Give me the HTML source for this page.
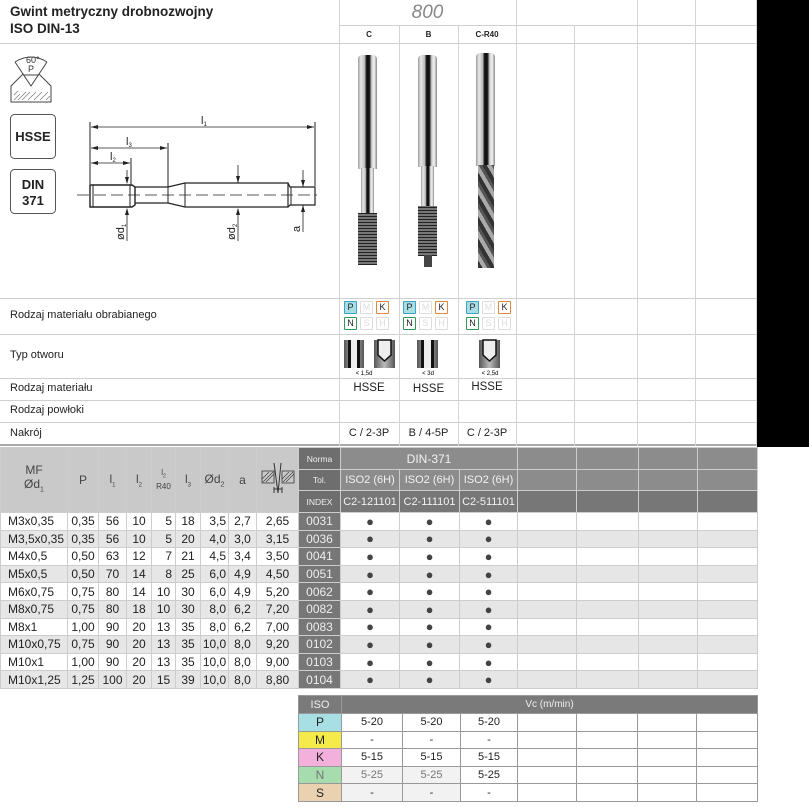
<!DOCTYPE html>
<html><head><meta charset="utf-8"><style>
*{margin:0;padding:0;box-sizing:border-box}
body{width:809px;height:807px;position:relative;background:#fff;font-family:"Liberation Sans",Arial,sans-serif;color:#222;overflow:hidden}
.a{position:absolute}
.hl{position:absolute;height:1px;background:#cfcfcf}
.vl{position:absolute;width:1px;background:#d4d4d4}
.lbl{position:absolute;left:10px;font-size:11px;color:#222}
table{border-collapse:collapse;position:absolute;table-layout:fixed}
td{border:1px solid #cdcdcd;font-size:12px;text-align:center;padding:0;white-space:nowrap;overflow:hidden}
.m{position:absolute;width:13px;height:13px;border:1px solid #ddd;font-size:9px;text-align:center;line-height:11px;color:#ddd;border-radius:1px}
.tap{position:absolute;background:linear-gradient(90deg,#9a9a9a 0%,#e8e8e8 15%,#bdbdbd 35%,#111 45%,#111 60%,#cfcfcf 72%,#f2f2f2 85%,#888 100%)}
</style></head><body>
<div class="a" style="left:757px;top:0;width:52px;height:447px;background:#000"></div>
<div class="a" style="left:10px;top:3px;font-size:13.5px;font-weight:bold;line-height:17px;color:#222">Gwint metryczny drobnozwojny<br>ISO DIN-13</div>
<div class="a" style="left:339px;top:2px;width:177px;text-align:center;font-size:19px;font-style:italic;color:#888">800</div>
<div class="a" style="left:339px;top:30px;width:60px;text-align:center;font-size:8px;font-weight:bold">C</div>
<div class="a" style="left:399px;top:30px;width:59px;text-align:center;font-size:8px;font-weight:bold">B</div>
<div class="a" style="left:458px;top:30px;width:58px;text-align:center;font-size:8px;font-weight:bold">C-R40</div>
<div class="hl" style="left:339px;top:25px;width:418px"></div>
<div class="hl" style="left:0;top:43px;width:757px"></div>
<div class="hl" style="left:0;top:298px;width:757px"></div>
<div class="hl" style="left:0;top:334px;width:757px"></div>
<div class="hl" style="left:0;top:378px;width:757px"></div>
<div class="hl" style="left:0;top:400px;width:757px"></div>
<div class="hl" style="left:0;top:422px;width:757px"></div>
<div class="hl" style="left:0;top:444px;width:757px;background:#aaa;height:2px"></div>
<div class="vl" style="left:339px;top:0;height:446px"></div>
<div class="vl" style="left:399px;top:25px;height:421px"></div>
<div class="vl" style="left:458px;top:25px;height:421px"></div>
<div class="vl" style="left:516px;top:0;height:446px"></div>
<div class="vl" style="left:574px;top:25px;height:421px"></div>
<div class="vl" style="left:637px;top:0;height:446px"></div>
<div class="vl" style="left:695px;top:0;height:446px"></div>
<div class="vl" style="left:756px;top:0;height:446px"></div>
<div class="lbl" style="top:309px">Rodzaj materiału obrabianego</div>
<div class="lbl" style="top:349px">Typ otworu</div>
<div class="lbl" style="top:382px">Rodzaj materiału</div>
<div class="lbl" style="top:404px">Rodzaj powłoki</div>
<div class="lbl" style="top:427px">Nakrój</div>
<div class="a" style="left:339px;top:382px;width:60px;text-align:center;font-size:11.5px">HSSE</div>
<div class="a" style="left:399px;top:383px;width:59px;text-align:center;font-size:11.5px">HSSE</div>
<div class="a" style="left:458px;top:381px;width:58px;text-align:center;font-size:11.5px">HSSE</div>
<div class="a" style="left:339px;top:427px;width:60px;text-align:center;font-size:11px">C / 2-3P</div>
<div class="a" style="left:399px;top:427px;width:59px;text-align:center;font-size:11px">B / 4-5P</div>
<div class="a" style="left:458px;top:427px;width:58px;text-align:center;font-size:11px">C / 2-3P</div>
<div class="m" style="left:344px;top:301px;background:#a9dde6;border-color:#3aa5c2;color:#222">P</div><div class="m" style="left:360px;top:301px">M</div><div class="m" style="left:376px;top:301px;border-color:#e0883a;color:#222">K</div>
<div class="m" style="left:344px;top:317px;border-color:#2f9a5a;color:#222">N</div><div class="m" style="left:360px;top:317px">S</div><div class="m" style="left:376px;top:317px">H</div>
<div class="m" style="left:403px;top:301px;background:#a9dde6;border-color:#3aa5c2;color:#222">P</div><div class="m" style="left:419px;top:301px">M</div><div class="m" style="left:435px;top:301px;border-color:#e0883a;color:#222">K</div>
<div class="m" style="left:403px;top:317px;border-color:#2f9a5a;color:#222">N</div><div class="m" style="left:419px;top:317px">S</div><div class="m" style="left:435px;top:317px">H</div>
<div class="m" style="left:466px;top:301px;background:#a9dde6;border-color:#3aa5c2;color:#222">P</div><div class="m" style="left:482px;top:301px">M</div><div class="m" style="left:498px;top:301px;border-color:#e0883a;color:#222">K</div>
<div class="m" style="left:466px;top:317px;border-color:#2f9a5a;color:#222">N</div><div class="m" style="left:482px;top:317px">S</div><div class="m" style="left:498px;top:317px">H</div>
<svg class="a" style="left:0;top:0" width="809" height="807">
<defs><linearGradient id="g" x1="0" x2="1"><stop offset="0" stop-color="#555"/><stop offset=".5" stop-color="#bbb"/><stop offset="1" stop-color="#555"/></linearGradient></defs>
<g>
<rect x="344" y="340" width="20" height="28" fill="url(#g)"/><rect x="348" y="340" width="3" height="28" fill="#111"/><rect x="357" y="340" width="3" height="28" fill="#111"/><rect x="351" y="340" width="6" height="28" fill="#eee"/>
<rect x="374" y="340" width="21" height="28" fill="url(#g)"/><path d="M378 340v15l6.5 6 6.5-6v-15z" fill="#eee" stroke="#111" stroke-width="1.5"/>
<rect x="417" y="340" width="21" height="28" fill="url(#g)"/><rect x="421" y="340" width="3" height="28" fill="#111"/><rect x="431" y="340" width="3" height="28" fill="#111"/><rect x="424" y="340" width="7" height="28" fill="#eee"/>
<rect x="479" y="340" width="21" height="28" fill="url(#g)"/><path d="M483 340v15l6.5 6 6.5-6v-15z" fill="#eee" stroke="#111" stroke-width="1.5"/>
<text x="364" y="375" font-size="6" text-anchor="middle" font-family="Liberation Sans">&lt; 1,5d</text>
<text x="428" y="375" font-size="6" text-anchor="middle" font-family="Liberation Sans">&lt; 3d</text>
<text x="490" y="375" font-size="6" text-anchor="middle" font-family="Liberation Sans">&lt; 2,5d</text>
</g>
<g stroke="#444" fill="none" stroke-width="1">
<path d="M11 102V86l12-12 8 12 8-12 12 12v16z" fill="#fff"/>
<path d="M14 100l6-6M18 100l8-8M22 100l8-8M28 100l8-8M34 100l8-8M40 100l8-8M46 100l4-4M14 95l4-4" stroke="#777" stroke-width=".7"/>
<path d="M15 62q16-10 32 0M15 62l8 12M47 62l-8 12M23 75h16"/>
</g>
<text x="26" y="63" font-size="9" font-family="Liberation Sans" fill="#333">60°</text>
<text x="28" y="72" font-size="9" font-family="Liberation Sans" fill="#333">P</text>
<rect x="10.5" y="114.5" width="45" height="44" rx="4" fill="#fff" stroke="#555"/>
<text x="33" y="141" font-size="13" font-weight="bold" text-anchor="middle" font-family="Liberation Sans" fill="#222">HSSE</text>
<rect x="10.5" y="169.5" width="45" height="44" rx="4" fill="#fff" stroke="#555"/>
<text x="33" y="189" font-size="13" font-weight="bold" text-anchor="middle" font-family="Liberation Sans" fill="#222">DIN</text>
<text x="33" y="205" font-size="13" font-weight="bold" text-anchor="middle" font-family="Liberation Sans" fill="#222">371</text>
<g stroke="#222" fill="none" stroke-width="1">
<path d="M90 185h42l3 2v18l-3 2H90z" stroke-width="1.4"/>
<path d="M93 185v22M130 185v22"/>
<path d="M135 187h33l17-4h103v24H185l-17-4h-33" stroke-width="1.2"/>
<path d="M168 187v16M185 183v24"/>
<path d="M288 183l2 4h25v18h-25l-2 2" stroke-width="1.2"/>
<path d="M291 187v18"/>
<path d="M77 195h240" stroke-dasharray="12 5" stroke-width=".8"/>
<path d="M90 122v62M315 122v64M168 143v44M131 158v27"/>
<path d="M91 127h223M91 148h76M91 163h39" stroke-width=".8"/>
<path d="M127 170v13M127 209v32M238 165v18M238 209v32M303 170v17M303 205v27" stroke-width=".8"/>
</g>
<g fill="#222">
<path d="M91 127l7-2v4zM314 127l-7-2v4zM91 148l7-2v4zM167 148l-7-2v4zM91 163l7-2v4zM130 163l-7-2v4z"/>
<path d="M127 184l-2-7h4zM127 208l-2 7h4zM238 183l-2-7h4zM238 208l-2 7h4zM303 187l-2-7h4zM303 205l-2 7h4z"/>
</g>
<g font-family="Liberation Sans" font-size="11" fill="#222">
<text x="201" y="124">l<tspan font-size="6" dy="2">1</tspan></text>
<text x="126" y="145">l<tspan font-size="6" dy="2">3</tspan></text>
<text x="110" y="160">l<tspan font-size="6" dy="2">2</tspan></text>
<text transform="translate(124,240) rotate(-90)">ød<tspan font-size="6" dy="2">1</tspan></text>
<text transform="translate(235,240) rotate(-90)">ød<tspan font-size="6" dy="2">2</tspan></text>
<text transform="translate(300,232) rotate(-90)">a</text>
</g>
</svg>
<div class="tap" style="left:358px;top:55px;width:19px;height:114px;border-radius:4px 4px 0 0"></div>
<div class="tap" style="left:361px;top:168px;width:13px;height:46px"></div>
<div class="tap" style="left:358px;top:213px;width:19px;height:52px;background:repeating-linear-gradient(0deg,#222 0 1px,#777 1px 3px)"></div>
<div class="tap" style="left:418px;top:55px;width:19px;height:112px;border-radius:4px 4px 0 0"></div>
<div class="tap" style="left:421px;top:166px;width:13px;height:40px"></div>
<div class="tap" style="left:418px;top:206px;width:19px;height:50px;background:repeating-linear-gradient(0deg,#222 0 1px,#777 1px 3px)"></div>
<div class="tap" style="left:424px;top:255px;width:8px;height:12px;background:#444"></div>
<div class="tap" style="left:476px;top:53px;width:19px;height:113px;border-radius:4px 4px 0 0"></div>
<div class="tap" style="left:478px;top:165px;width:16px;height:103px;background:repeating-linear-gradient(60deg,#333 0 4px,#aaa 4px 8px,#555 8px 11px)"></div>
<table style="left:0;top:447px;width:757px">
<colgroup><col style="width:67px"><col style="width:31px"><col style="width:28px"><col style="width:25px"><col style="width:24px"><col style="width:25px"><col style="width:28px"><col style="width:28px"><col style="width:42px"><col style="width:42px"><col style="width:59px"><col style="width:60px"><col style="width:58px"><col style="width:59px"><col style="width:62px"><col style="width:59px"><col style="width:60px"></colgroup>
<tr style="height:22px">
<td rowspan="3" style="background:#c9c9c9;color:#444;font-size:12px;line-height:14px">MF<br>Ød<sub style="font-size:7px">1</sub></td>
<td rowspan="3" style="background:#c9c9c9;color:#444">P</td>
<td rowspan="3" style="background:#c9c9c9;color:#444">l<sub style="font-size:6px">1</sub></td>
<td rowspan="3" style="background:#c9c9c9;color:#444">l<sub style="font-size:6px">2</sub></td>
<td rowspan="3" style="background:#c9c9c9;color:#444;font-size:8px;line-height:10px">l<sub style="font-size:5px">2</sub><br>R40</td>
<td rowspan="3" style="background:#c9c9c9;color:#444">l<sub style="font-size:6px">3</sub></td>
<td rowspan="3" style="background:#c9c9c9;color:#444">Ød<sub style="font-size:7px">2</sub></td>
<td rowspan="3" style="background:#c9c9c9;color:#444">a</td>
<td rowspan="3" style="background:#c9c9c9"><svg width="36" height="36" viewBox="0 0 36 36"><g stroke="#333" fill="none"><path d="M2 10h12v12H2zM22 10h12v12H22z" stroke-width=".8"/><path d="M3 21l10-10M6 21l8-8M2 18l7-7M23 21l10-10M26 21l8-8M22 18l7-7" stroke-width=".6"/><path d="M14 2l4 30M21 2l-3 30M14 28h8M14 26v6M22 26v6"/></g></svg></td>
<td style="background:#6e6e6e;color:#eee;font-size:8.5px">Norma</td>
<td colspan="3" style="background:#8c8c8c;color:#f2f2f2;font-size:12px">DIN-371</td>
<td style="background:#8c8c8c"></td><td style="background:#8c8c8c"></td><td style="background:#8c8c8c"></td><td style="background:#8c8c8c"></td>
</tr>
<tr style="height:21px">
<td style="background:#6e6e6e;color:#eee;font-size:8.5px">Tol.</td>
<td style="background:#8c8c8c;color:#f2f2f2;font-size:11px">ISO2 (6H)</td><td style="background:#8c8c8c;color:#f2f2f2;font-size:11px">ISO2 (6H)</td><td style="background:#8c8c8c;color:#f2f2f2;font-size:11px">ISO2 (6H)</td>
<td style="background:#8c8c8c"></td><td style="background:#8c8c8c"></td><td style="background:#8c8c8c"></td><td style="background:#8c8c8c"></td>
</tr>
<tr style="height:22px">
<td style="background:#6e6e6e;color:#eee;font-size:8.5px">INDEX</td>
<td style="background:#777;color:#f2f2f2;font-size:11px">C2-121101</td><td style="background:#777;color:#f2f2f2;font-size:11px">C2-111101</td><td style="background:#777;color:#f2f2f2;font-size:11px">C2-511101</td>
<td style="background:#777"></td><td style="background:#777"></td><td style="background:#777"></td><td style="background:#777"></td>
</tr>
</table>
<table style="left:0;top:512px;width:757px;font-size:12px">
<colgroup><col style="width:67px"><col style="width:31px"><col style="width:28px"><col style="width:25px"><col style="width:24px"><col style="width:25px"><col style="width:28px"><col style="width:28px"><col style="width:42px"><col style="width:42px"><col style="width:59px"><col style="width:60px"><col style="width:58px"><col style="width:59px"><col style="width:62px"><col style="width:59px"><col style="width:60px"></colgroup>
<tbody id="b">
<tr style="height:17.6px;background:#fff"><td style="text-align:left;padding-left:7px">M3x0,35</td><td>0,35</td><td>56</td><td>10</td><td style="text-align:right;padding-right:3px">5</td><td>18</td><td style="text-align:right;padding-right:2px">3,5</td><td>2,7</td><td>2,65</td><td style="background:#777;color:#eee">0031</td><td>●</td><td>●</td><td>●</td><td></td><td></td><td></td><td></td></tr>
<tr style="height:17.6px;background:#e6e6e6"><td style="text-align:left;padding-left:7px">M3,5x0,35</td><td>0,35</td><td>56</td><td>10</td><td style="text-align:right;padding-right:3px">5</td><td>20</td><td style="text-align:right;padding-right:2px">4,0</td><td>3,0</td><td>3,15</td><td style="background:#777;color:#eee">0036</td><td>●</td><td>●</td><td>●</td><td></td><td></td><td></td><td></td></tr>
<tr style="height:17.6px;background:#fff"><td style="text-align:left;padding-left:7px">M4x0,5</td><td>0,50</td><td>63</td><td>12</td><td style="text-align:right;padding-right:3px">7</td><td>21</td><td style="text-align:right;padding-right:2px">4,5</td><td>3,4</td><td>3,50</td><td style="background:#777;color:#eee">0041</td><td>●</td><td>●</td><td>●</td><td></td><td></td><td></td><td></td></tr>
<tr style="height:17.6px;background:#e6e6e6"><td style="text-align:left;padding-left:7px">M5x0,5</td><td>0,50</td><td>70</td><td>14</td><td style="text-align:right;padding-right:3px">8</td><td>25</td><td style="text-align:right;padding-right:2px">6,0</td><td>4,9</td><td>4,50</td><td style="background:#777;color:#eee">0051</td><td>●</td><td>●</td><td>●</td><td></td><td></td><td></td><td></td></tr>
<tr style="height:17.6px;background:#fff"><td style="text-align:left;padding-left:7px">M6x0,75</td><td>0,75</td><td>80</td><td>14</td><td>10</td><td>30</td><td style="text-align:right;padding-right:2px">6,0</td><td>4,9</td><td>5,20</td><td style="background:#777;color:#eee">0062</td><td>●</td><td>●</td><td>●</td><td></td><td></td><td></td><td></td></tr>
<tr style="height:17.6px;background:#e6e6e6"><td style="text-align:left;padding-left:7px">M8x0,75</td><td>0,75</td><td>80</td><td>18</td><td>10</td><td>30</td><td style="text-align:right;padding-right:2px">8,0</td><td>6,2</td><td>7,20</td><td style="background:#777;color:#eee">0082</td><td>●</td><td>●</td><td>●</td><td></td><td></td><td></td><td></td></tr>
<tr style="height:17.6px;background:#fff"><td style="text-align:left;padding-left:7px">M8x1</td><td>1,00</td><td>90</td><td>20</td><td>13</td><td>35</td><td style="text-align:right;padding-right:2px">8,0</td><td>6,2</td><td>7,00</td><td style="background:#777;color:#eee">0083</td><td>●</td><td>●</td><td>●</td><td></td><td></td><td></td><td></td></tr>
<tr style="height:17.6px;background:#e6e6e6"><td style="text-align:left;padding-left:7px">M10x0,75</td><td>0,75</td><td>90</td><td>20</td><td>13</td><td>35</td><td>10,0</td><td>8,0</td><td>9,20</td><td style="background:#777;color:#eee">0102</td><td>●</td><td>●</td><td>●</td><td></td><td></td><td></td><td></td></tr>
<tr style="height:17.6px;background:#fff"><td style="text-align:left;padding-left:7px">M10x1</td><td>1,00</td><td>90</td><td>20</td><td>13</td><td>35</td><td>10,0</td><td>8,0</td><td>9,00</td><td style="background:#777;color:#eee">0103</td><td>●</td><td>●</td><td>●</td><td></td><td></td><td></td><td></td></tr>
<tr style="height:17.6px;background:#e6e6e6"><td style="text-align:left;padding-left:7px">M10x1,25</td><td>1,25</td><td>100</td><td>20</td><td>15</td><td>39</td><td>10,0</td><td>8,0</td><td>8,80</td><td style="background:#777;color:#eee">0104</td><td>●</td><td>●</td><td>●</td><td></td><td></td><td></td><td></td></tr>
</tbody></table>
<style>#b td:nth-child(n+11){font-size:13px;color:#444;line-height:15px}</style>
<table style="left:298px;top:695px;width:459px">
<colgroup><col style="width:43px"><col style="width:61px"><col style="width:58px"><col style="width:57px"><col style="width:59px"><col style="width:61px"><col style="width:59px"><col style="width:61px"></colgroup>
<tr style="height:18px"><td style="background:#7a7a7a;color:#eee;font-size:11px;border-color:#999">ISO</td><td colspan="7" style="background:#7a7a7a;color:#eee;font-size:10px;border-color:#999">Vc (m/min)</td></tr>
<tr style="height:17.6px"><td style="background:#a8dfe4;border-color:#999">P</td><td style="border-color:#999;font-size:11px">5-20</td><td style="border-color:#999;font-size:11px">5-20</td><td style="border-color:#999;font-size:11px">5-20</td><td style="border-color:#999"></td><td style="border-color:#999"></td><td style="border-color:#999"></td><td style="border-color:#999"></td></tr>
<tr style="height:17.6px"><td style="background:#f4ea4a;border-color:#999">M</td><td style="border-color:#999;font-size:11px">-</td><td style="border-color:#999;font-size:11px">-</td><td style="border-color:#999;font-size:11px">-</td><td style="border-color:#999"></td><td style="border-color:#999"></td><td style="border-color:#999"></td><td style="border-color:#999"></td></tr>
<tr style="height:17.6px"><td style="background:#f4b0dc;border-color:#999">K</td><td style="border-color:#999;font-size:11px">5-15</td><td style="border-color:#999;font-size:11px">5-15</td><td style="border-color:#999;font-size:11px">5-15</td><td style="border-color:#999"></td><td style="border-color:#999"></td><td style="border-color:#999"></td><td style="border-color:#999"></td></tr>
<tr style="height:17.6px"><td style="background:#a6dcae;border-color:#999;color:#777">N</td><td style="border-color:#999;font-size:11px;color:#777;background:#f2f2f2">5-25</td><td style="border-color:#999;font-size:11px;color:#777;background:#f2f2f2">5-25</td><td style="border-color:#999;font-size:11px">5-25</td><td style="border-color:#999"></td><td style="border-color:#999"></td><td style="border-color:#999"></td><td style="border-color:#999"></td></tr>
<tr style="height:17.6px"><td style="background:#ead1b0;border-color:#999">S</td><td style="border-color:#999;font-size:11px;background:#f2f2f2">-</td><td style="border-color:#999;font-size:11px;background:#f2f2f2">-</td><td style="border-color:#999;font-size:11px">-</td><td style="border-color:#999"></td><td style="border-color:#999"></td><td style="border-color:#999"></td><td style="border-color:#999"></td></tr>
</table>
</body></html>
